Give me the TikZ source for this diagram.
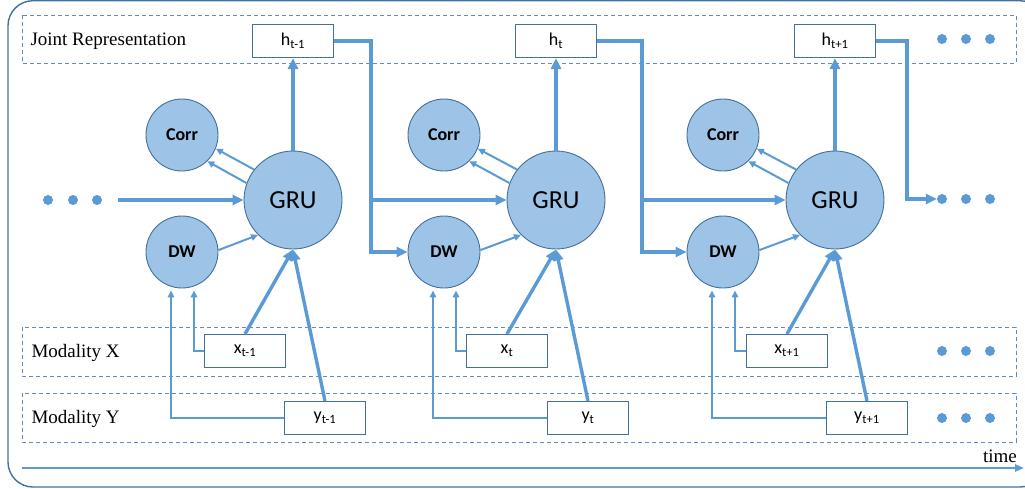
\documentclass[tikz,border=0pt]{standalone}
\usepackage{fontspec}
\setmainfont{Liberation Serif}
\newfontfamily\calfont{Carlito}
\usetikzlibrary{arrows.meta,calc}
\definecolor{arr}{RGB}{91,155,213}
\definecolor{cfill}{RGB}{157,195,230}
\definecolor{cdraw}{RGB}{65,113,156}
\definecolor{band}{RGB}{100,140,185}
\tikzset{
  x=1pt,y=-1pt,
  circ/.style={circle,fill=cfill,draw=cdraw,line width=0.9pt,inner sep=0pt},
  grunode/.style={circ,minimum size=98pt,font=\calfont\fontsize{26}{26}\selectfont},
  smallcirc/.style={circ,minimum size=72pt,font=\calfont\bfseries\fontsize{18}{18}\selectfont},
  valbox/.style={draw=cdraw,line width=1.1pt,fill=white,minimum width=81pt,minimum height=33pt,inner sep=0pt,font=\calfont\fontsize{18}{18}\selectfont},
  bandbox/.style={draw=band,dashed,dash pattern=on 4pt off 3pt,line width=1pt},
  thickarr/.style={draw=arr,line width=3.4pt,-{Triangle[length=11pt,width=10pt]}},
  thinarr/.style={draw=arr,line width=2pt,-{Triangle[length=7pt,width=6.5pt]}},
  dotn/.style={circle,fill=arr,inner sep=0pt,minimum size=10pt},
  lbl/.style={font=\fontsize{19}{19}\selectfont,anchor=west}
}
\begin{document}
\begin{tikzpicture}
\useasboundingbox (0,0) rectangle (1025,488);
\begin{scope}
\clip (0,0) rectangle (1025,488);
\draw[cdraw,line width=1.4pt,rounded corners=25pt] (8,0.7) rectangle (1045,487);
\end{scope}
% bands
\draw[bandbox] (22,15) rectangle (1016,63);
\draw[bandbox] (22,327) rectangle (1016,376);
\draw[bandbox] (22,393) rectangle (1016,442);
\node[lbl] (jr) at (27,41) {Joint Representation};
\node[lbl] (mx) at (28,353) {Modality X};
\node[lbl] (my) at (28,419) {Modality Y};
% time arrow
\coordinate (ts) at (22,468);
\coordinate (te) at (1024,468);
\draw[draw=arr,line width=2.2pt,-{Triangle[length=9pt,width=7pt]}] (ts) -- (te);
\node[font=\fontsize{19}{19}\selectfont,anchor=south east,inner sep=1pt] (time) at (1018,464) {time};
% nodes
\foreach \i/\gx/\cx/\xx/\yx/\sub in {1/293/182/245/325/{t-1},2/556/444/507/588/t,3/835/723/787/867/{t+1}}{
  \node[grunode] (GRU\i) at (\gx,200) {GRU};
  \node[smallcirc] (Corr\i) at (\cx,135) {Corr};
  \node[smallcirc] (DW\i) at (\cx,252) {DW};
  \node[valbox] (h\i) at (\gx,41) {h\textsubscript{\sub}};
  \node[valbox] (x\i) at (\xx,351) {x\textsubscript{\sub}};
  \node[valbox] (y\i) at (\yx,418) {y\textsubscript{\sub}};
  \draw[thickarr] (GRU\i.north) -- (h\i.south);
  \draw[thinarr] (GRU\i.142) -- (Corr\i.-22);
  \draw[thinarr] (GRU\i.160) -- (Corr\i.-46);
  \draw[thinarr] (DW\i.3) -- (GRU\i.225);
  \draw[thickarr] (x\i.north) -- (GRU\i.south);
  \draw[thickarr] (y\i.north) -- (GRU\i.south);
  \draw[thinarr] (x\i.west) -| ([xshift=12pt,yshift=-2pt]DW\i.south);
  \draw[thinarr] (y\i.west) -| ([xshift=-11pt,yshift=-2pt]DW\i.south);
}
% dots
\node[dotn] (ld1) at (48,200) {};
\node[dotn] (ld2) at (73,200) {};
\node[dotn] (ld3) at (97,200) {};
\foreach \yy/\nm in {39/a,199/b,351/c,418/d}{
  \node[dotn] (\nm1) at (942,\yy) {};
  \node[dotn] (\nm2) at (966,\yy) {};
  \node[dotn] (\nm3) at (990,\yy) {};
}
% recurrent connections
\coordinate (ls) at (118,200);
\draw[thickarr] (ls) -- (GRU1.west);
\coordinate (c1) at (371,200);
\coordinate (c2) at (642,200);
\coordinate (c3) at (907,199);
\draw[thickarr] (h1.east) -| (c1) |- (DW2.west);
\draw[thickarr] (c1) -- (GRU2.west);
\draw[thickarr] (h2.east) -| (c2) |- (DW3.west);
\draw[thickarr] (c2) -- (GRU3.west);
\draw[thickarr] (h3.east) -| (c3) -- (b1.west);
\end{tikzpicture}
\end{document}
